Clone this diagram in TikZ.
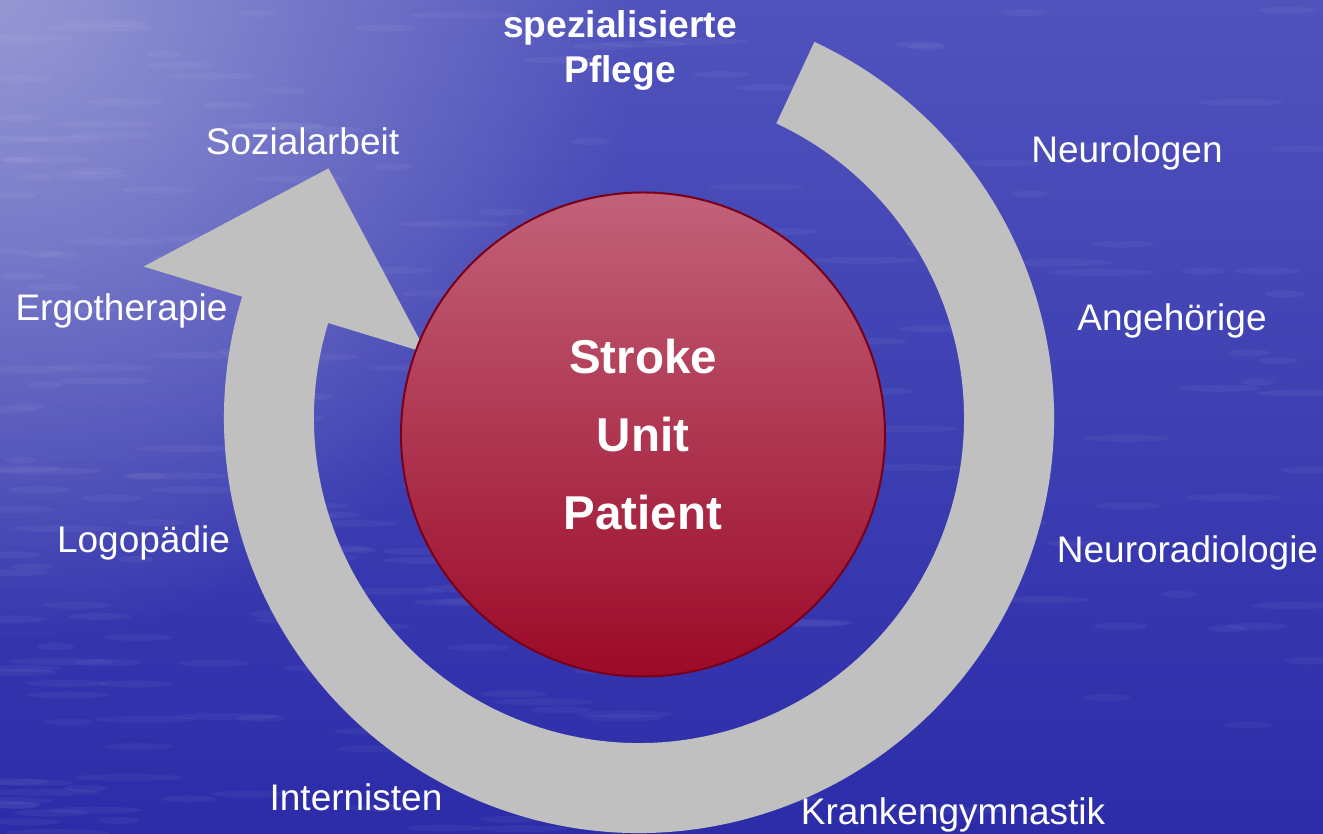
\documentclass[tikz,border=0pt]{standalone}
\usepackage{fontspec}
\setmainfont{Liberation Sans}
\usetikzlibrary{fadings}

\definecolor{seatop}{HTML}{5053BC}
\definecolor{seabottom}{HTML}{2C2CA9}
\definecolor{haze}{HTML}{9698D4}
\definecolor{ringgray}{HTML}{C0C0C0}
\definecolor{rosetop}{HTML}{C2627A}
\definecolor{rosebottom}{HTML}{9C0A28}
\definecolor{roseline}{HTML}{7A0018}

\tikzfading[name=hazefade, inner color=transparent!0, outer color=transparent!100]

\tikzset{
	team/.style={text=white, anchor=base, inner sep=0pt, font=\fontsize{18.5}{21.5}\selectfont},
	teambold/.style={team, font=\fontsize{18.6}{21.5}\selectfont\bfseries},
	hub/.style={circle, draw=roseline, line width=1pt, top color=rosetop, bottom color=rosebottom,
		minimum size=242pt, inner sep=0pt, text=white, align=center,
		font=\fontsize{23.75}{39}\selectfont\bfseries},
}

\begin{document}
\begin{tikzpicture}[x=0.5pt, y=0.5pt]
	\useasboundingbox (0,0) rectangle (1323,834);
	\clip (0,0) rectangle (1323,834);
	% water in the background
	\shade[top color=seatop, bottom color=seabottom] (0,0) rectangle (1323,834);
	\fill[haze, path fading=hazefade] (0,834) circle (640);
	\pgfmathsetseed{42}
	\foreach \i in {1,...,220} {
		\pgfmathsetmacro{\sx}{pow(rnd,1.6)*1323}
		\pgfmathsetmacro{\sy}{rnd*834}
		\pgfmathsetmacro{\sw}{15+rnd*40}
		\fill[white, opacity=0.045] (\sx,\sy) ellipse [x radius=\sw, y radius=3.5];
	}
	% grey ring arrow, running clockwise
	\begin{scope}[shift={(639,416)}]
		\fill[ringgray] (65:415) arc[start angle=65, end angle=-197, radius=415]
			-- (163:518) -- (141.2:398.4) -- (163:222) -- (163:325)
			arc[start angle=-197, end angle=65, radius=325] -- cycle;
	\end{scope}
	% patient in the middle
	\node[hub] (patient) at (643,399.5) {Stroke\\Unit\\Patient};
	% the teams around
	\node[teambold] (spez) at (620,796) {spezialisierte};
	\node[teambold] (pflege) at (620,751) {Pflege};
	\node[team] (soz) at (302.5,679) {Sozialarbeit};
	\node[team] (neuro) at (1127,671) {Neurologen};
	\node[team] (angeh) at (1172,503) {Angehörige};
	\node[team] (ergo) at (121.5,513) {Ergotherapie};
	\node[team] (logo) at (143.5,281) {Logopädie};
	\node[team] (nrad) at (1187.5,271) {Neuroradiologie};
	\node[team] (intern) at (356,23) {Internisten};
	\node[team] (kg) at (953,9) {Krankengymnastik};
\end{tikzpicture}
\end{document}
